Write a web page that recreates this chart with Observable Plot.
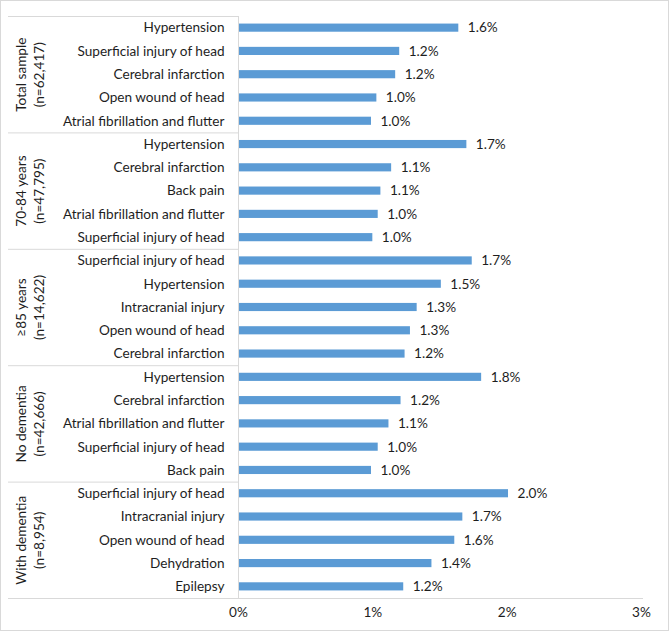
<!DOCTYPE html>
<html>
<head>
<meta charset="utf-8">
<script src="https://cdn.jsdelivr.net/npm/d3@7"></script>
<script src="https://cdn.jsdelivr.net/npm/@observablehq/plot@0.6"></script>
<style>
  html, body { margin: 0; padding: 0; background: #fff; }
  #chart { width: 669px; height: 631px; box-sizing: border-box; border: 1px solid #d9d9d9; overflow: hidden; }
  #chart svg { display: block; }
</style>
</head>
<body>
<div id="chart"></div>
<script>
const groups = [
  "Total sample\n(n=62,417)",
  "70-84 years\n(n=47,795)",
  "≥85 years\n(n=14,622)",
  "No dementia\n(n=42,666)",
  "With dementia\n(n=8,954)"
];
const categories = [
  ["Hypertension", "Superficial injury of head", "Cerebral infarction", "Open wound of head", "Atrial fibrillation and flutter"],
  ["Hypertension", "Cerebral infarction", "Back pain", "Atrial fibrillation and flutter", "Superficial injury of head"],
  ["Superficial injury of head", "Hypertension", "Intracranial injury", "Open wound of head", "Cerebral infarction"],
  ["Hypertension", "Cerebral infarction", "Atrial fibrillation and flutter", "Superficial injury of head", "Back pain"],
  ["Superficial injury of head", "Intracranial injury", "Open wound of head", "Dehydration", "Epilepsy"]
];
const values = [
  [1.64, 1.20, 1.17, 1.03, 0.99],
  [1.70, 1.14, 1.06, 1.04, 1.00],
  [1.74, 1.51, 1.33, 1.28, 1.24],
  [1.81, 1.21, 1.12, 1.04, 0.99],
  [2.01, 1.67, 1.61, 1.44, 1.23]
];
const xTicks = [0, 1, 2, 3];

const rows = [];
groups.forEach((g, gi) => {
  categories[gi].forEach((c, ci) => {
    rows.push({group: g, category: c, value: values[gi][ci], idx: rows.length});
  });
});
const n = rows.length;
const labelOf = new Map(rows.map(r => [r.idx, r.category]));
const groupCenters = groups.map((g, gi) => {
  const rs = rows.filter(r => r.group === g);
  return {label: g, idx: (rs[0].idx + rs[rs.length - 1].idx) / 2};
});
const boundaries = [-0.5];
{
  let acc = -0.5;
  categories.forEach(cs => { acc += cs.length; boundaries.push(acc); });
}
const half = 0.175;
const font = "Lato, 'Open Sans', sans-serif";
const textColor = "#1e1e1e";
const fs = 13.6;

const chart = Plot.plot({
  width: 667,
  height: 629,
  marginLeft: 237,
  marginRight: 27,
  marginTop: 15,
  marginBottom: 32,
  style: {fontFamily: font, fontSize: fs + "px", color: textColor, background: "#fff"},
  x: {domain: [0, 3], ticks: xTicks, tickFormat: d => d + "%", label: null},
  y: {domain: [n - 0.5, -0.5], label: null},
  marks: [
    Plot.rectX(rows, {x1: 0, x2: "value", y1: d => d.idx - half, y2: d => d.idx + half, fill: "#5B9BD5"}),
    Plot.text(rows, {x: "value", y: "idx", text: d => d.value.toFixed(1) + "%", textAnchor: "start", dx: 9, fill: textColor, fontSize: fs}),
    Plot.axisY({ticks: rows.map(r => r.idx), tickFormat: d => labelOf.get(d), tickSize: 0, tickPadding: 14, fontSize: fs, fill: textColor}),
    Plot.axisX({ticks: xTicks, tickFormat: d => d + "%", tickSize: 0, tickPadding: 9, fontSize: fs, fill: textColor}),
    Plot.text(groupCenters, {y: "idx", text: "label", frameAnchor: "left", dx: -209, rotate: -90, textAnchor: "middle", lineHeight: 1.3, fontSize: fs, fill: textColor}),
    Plot.ruleY(boundaries.slice(0, -1), {y: d => d, x2: 0, insetLeft: -230, stroke: "#d9d9d9", strokeWidth: 1}),
    Plot.ruleY([boundaries[boundaries.length - 1]], {insetLeft: -230, insetRight: -2, stroke: "#d9d9d9", strokeWidth: 1}),
    Plot.ruleX([0], {stroke: "#d9d9d9", strokeWidth: 1})
  ]
});
document.getElementById("chart").appendChild(chart);
</script>
</body>
</html>
